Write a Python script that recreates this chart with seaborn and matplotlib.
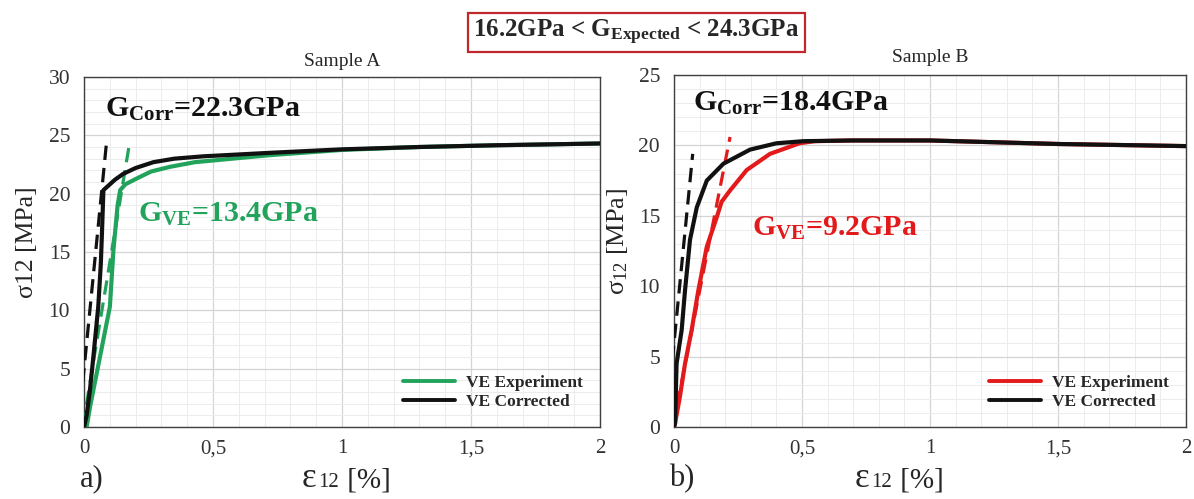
import numpy as np
import pandas as pd
import matplotlib
matplotlib.use("Agg")
import matplotlib.pyplot as plt
from matplotlib.ticker import MultipleLocator, FuncFormatter
import seaborn as sns

# ---- Sample A: shear stress-strain curves ----
a_exp_strain = [0.0, 0.01, 0.023, 0.049, 0.075, 0.10, 0.114, 0.13, 0.14, 0.16, 0.204, 0.26, 0.333, 0.43, 0.527, 0.72, 1.0, 1.3, 1.6, 2.0]
a_exp_stress = [0.0, 0.0, 1.7, 4.6, 7.5, 10.3, 15.2, 19.0, 20.3, 20.8, 21.3, 21.9, 22.3, 22.7, 22.9, 23.3, 23.75, 24.0, 24.15, 24.3]
a_cor_strain = [0.0, 0.01, 0.023, 0.036, 0.055, 0.065, 0.07, 0.075, 0.09, 0.12, 0.152, 0.2, 0.269, 0.35, 0.462, 0.72, 1.0, 1.3, 1.6, 2.0]
a_cor_stress = [0.0, 1.0, 3.2, 6.0, 10.3, 14.0, 17.0, 20.3, 20.6, 21.2, 21.7, 22.2, 22.7, 23.0, 23.2, 23.5, 23.8, 24.0, 24.15, 24.3]

# ---- Sample B: shear stress-strain curves ----
b_exp_strain = [0.0, 0.004, 0.023, 0.043, 0.069, 0.095, 0.128, 0.167, 0.186, 0.219, 0.284, 0.375, 0.49, 0.55, 0.7, 1.0, 1.2, 1.5, 2.0]
b_exp_stress = [0.0, 0.26, 2.15, 4.5, 6.9, 9.7, 12.8, 14.9, 16.0, 16.8, 18.25, 19.4, 20.15, 20.3, 20.35, 20.35, 20.25, 20.1, 19.95]
b_cor_strain = [0.0, 0.004, 0.01, 0.03, 0.043, 0.0625, 0.089, 0.128, 0.193, 0.297, 0.40, 0.505, 0.7, 1.0, 1.2, 1.5, 2.0]
b_cor_stress = [0.0, 0.26, 4.5, 6.9, 9.7, 13.3, 15.6, 17.5, 18.7, 19.7, 20.15, 20.3, 20.35, 20.35, 20.25, 20.1, 19.95]

# ---- Linear fits: shear modulus [GPa] and upper end of each fit line ----
a_fit_G = {"VE Experiment": 13.4, "VE Corrected": 22.3}
a_fit_top = {"VE Experiment": (0.176, 24.3), "VE Corrected": (0.088, 24.6)}
b_fit_G = {"VE Experiment": 9.2, "VE Corrected": 18.4}
b_fit_top = {"VE Experiment": (0.219, 20.6), "VE Corrected": (0.073, 19.4)}

expected_range = (16.2, 24.3)
series_names = ["VE Experiment", "VE Corrected"]

GREEN = "#22a35b"
RED = "#e31a1c"
BLACK = "#111111"
AXC = "#404040"

sns.set_theme(style="white")
plt.rcParams["font.family"] = ["Liberation Serif", "DejaVu Serif"]
plt.rcParams["mathtext.fontset"] = "custom"
plt.rcParams["mathtext.rm"] = "Liberation Serif"
plt.rcParams["mathtext.it"] = "Liberation Serif:italic"
plt.rcParams["mathtext.bf"] = "Liberation Serif:bold"


def curve_frame(exp_x, exp_y, cor_x, cor_y):
    return pd.concat([
        pd.DataFrame({"strain": exp_x, "stress": exp_y, "series": "VE Experiment"}),
        pd.DataFrame({"strain": cor_x, "stress": cor_y, "series": "VE Corrected"}),
    ], ignore_index=True)


def fit_frame(G, top, name):
    # slope in MPa per % strain = G[GPa] * 1000 / 100
    slope = G * 10.0
    x_top, y_top = top
    ys = np.array([0.0, y_top])
    xs = x_top - (y_top - ys) / slope
    return pd.DataFrame({"strain": xs, "stress": ys, "series": name})


comma = FuncFormatter(lambda v, p: ("%g" % v).replace(".", ","))

fig = plt.figure(figsize=(11.94, 4.99), dpi=100)
axA = fig.add_axes([0.0704, 0.1443, 0.4321, 0.7014])
axB = fig.add_axes([0.5645, 0.1443, 0.4288, 0.7054])


def style_axes(ax, ymax):
    ax.set_xlim(0, 2)
    ax.set_ylim(0, ymax)
    ax.xaxis.set_major_locator(MultipleLocator(0.5))
    ax.xaxis.set_minor_locator(MultipleLocator(0.1))
    ax.yaxis.set_major_locator(MultipleLocator(5))
    ax.yaxis.set_minor_locator(MultipleLocator(1))
    ax.xaxis.set_major_formatter(comma)
    ax.grid(True, which="major", color="#d4d4d4", lw=0.9)
    ax.grid(True, which="minor", color="#ececec", lw=0.7)
    ax.set_axisbelow(True)
    for s in ax.spines.values():
        s.set_visible(True)
        s.set_color(AXC)
        s.set_linewidth(1.0)
    ax.tick_params(axis="y", which="both", length=0, labelsize=15.5,
                   labelcolor="#333333", pad=10)
    ax.tick_params(axis="x", which="both", length=0, labelsize=15,
                   labelcolor="#333333", pad=9)
    ax.set_xlabel("")
    ax.set_ylabel("")


def draw_panel(ax, df, fits, tops, color, ymax):
    pal = {"VE Experiment": color, "VE Corrected": BLACK}
    for name in series_names:
        fd = fit_frame(fits[name], tops[name], name)
        sns.lineplot(data=fd, x="strain", y="stress", color=pal[name], lw=2.3,
                     linestyle=(0, (4.5, 2.5)), ax=ax, legend=False, sort=False,
                     estimator=None, zorder=3)
    sns.lineplot(data=df, x="strain", y="stress", hue="series", hue_order=series_names,
                 palette=pal, lw=3.0, ax=ax, sort=False, estimator=None, zorder=4)
    style_axes(ax, ymax)
    leg = ax.legend(loc="lower right", frameon=False, handlelength=3.0,
                    prop={"family": "Liberation Serif", "weight": "bold", "size": 12.5},
                    borderaxespad=0.6, labelspacing=0.15, handletextpad=0.6)
    for h in leg.get_lines():
        h.set_linewidth(2.8)


dfA = curve_frame(a_exp_strain, a_exp_stress, a_cor_strain, a_cor_stress)
dfB = curve_frame(b_exp_strain, b_exp_stress, b_cor_strain, b_cor_stress)

draw_panel(axA, dfA, a_fit_G, a_fit_top, GREEN, 30)
draw_panel(axB, dfB, b_fit_G, b_fit_top, RED, 25)

axA.set_title("Sample A", fontsize=14, pad=8)
axB.set_title("Sample B", fontsize=14, pad=9)

# Modulus annotations
axA.text(0.08, 27.2, r"G$_{\mathbf{Corr}}$=%.1fGPa" % a_fit_G["VE Corrected"],
         fontsize=21.5, fontweight="bold", color=BLACK, ha="left", va="center")
axA.text(0.21, 18.2, r"G$_{\mathbf{VE}}$=%.1fGPa" % a_fit_G["VE Experiment"],
         fontsize=21.5, fontweight="bold", color=GREEN, ha="left", va="center")
axB.text(0.074, 23.0, r"G$_{\mathbf{Corr}}$=%.1fGPa" % b_fit_G["VE Corrected"],
         fontsize=21.5, fontweight="bold", color=BLACK, ha="left", va="center")
axB.text(0.305, 14.1, r"G$_{\mathbf{VE}}$=%.1fGPa" % b_fit_G["VE Experiment"],
         fontsize=21.5, fontweight="bold", color=RED, ha="left", va="center")

# Axis labels
fig.text(0.023, 0.515, "σ12 [MPa]", rotation=90, fontsize=18.5, ha="center", va="center")
fig.text(0.517, 0.517, r"σ$_{12}$ [MPa]", rotation=90, fontsize=19, ha="center", va="center")


def strain_label(x, y):
    t1 = fig.text(x, y, "ε", fontsize=25, ha="left", va="baseline")
    t2 = fig.text(0, 0, "12", fontsize=15, ha="left", va="baseline")
    t3 = fig.text(0, 0, " [%]", fontsize=21, ha="left", va="baseline")
    return t1, t2, t3


def place_chain(texts):
    renderer = fig.canvas.get_renderer()
    inv = fig.transFigure.inverted()
    x0, y0 = texts[0].get_position()
    for prev, cur in zip(texts[:-1], texts[1:]):
        bb = prev.get_window_extent(renderer)
        xr = inv.transform((bb.x1, bb.y0))[0]
        cur.set_position((xr + 0.001, y0))


labA = strain_label(0.253, 0.024)
labB = strain_label(0.716, 0.024)
fig.canvas.draw()
place_chain(labA)
place_chain(labB)

fig.text(0.067, 0.040, "a)", fontsize=22, ha="left", va="center")
fig.text(0.560, 0.040, "b)", fontsize=22, ha="left", va="center")

# Expected modulus range
fig.text(0.533, 0.935,
         r"%.1fGPa < G$_{\mathbf{Expected}}$ < %.1fGPa" % expected_range,
         fontsize=18, fontweight="bold", ha="center", va="center",
         bbox=dict(boxstyle="square,pad=0.2", fc="white", ec="#c0282d", lw=1.6))

fig.savefig("out.png", dpi=100)
